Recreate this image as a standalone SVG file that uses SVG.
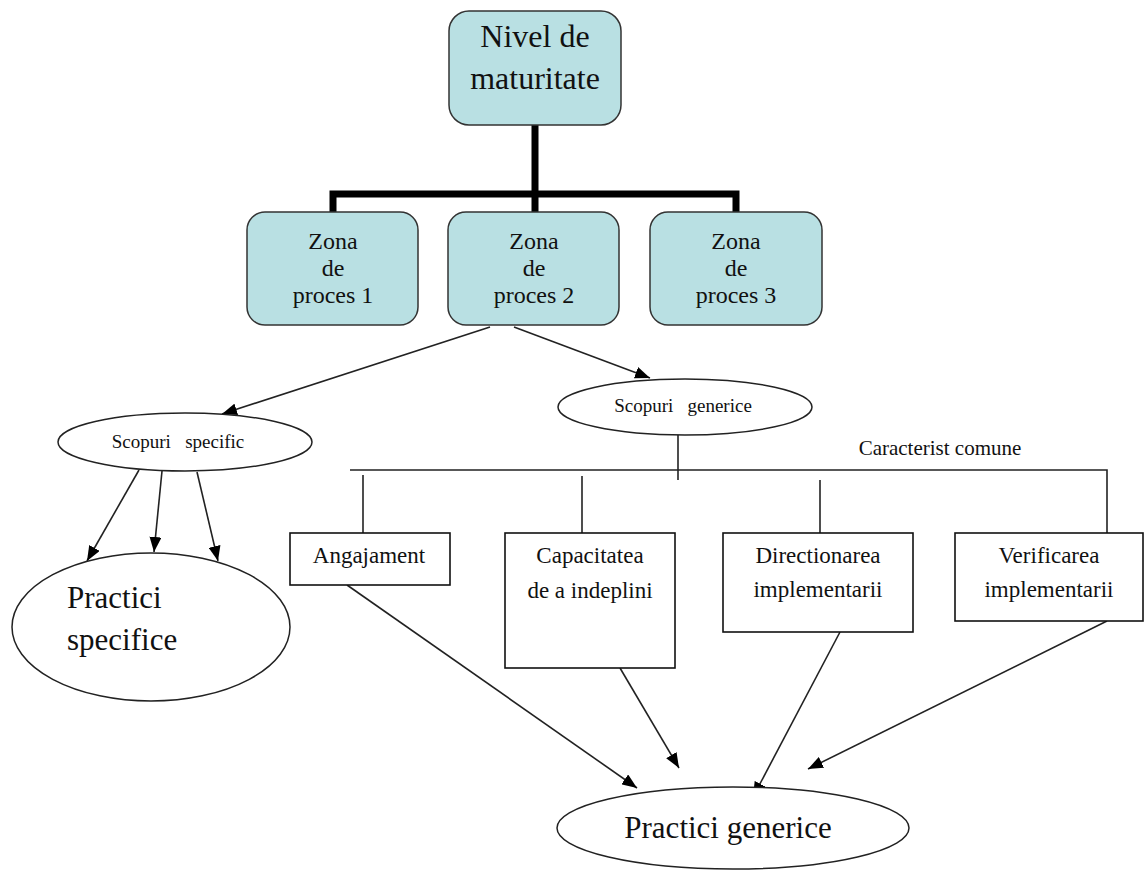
<svg xmlns="http://www.w3.org/2000/svg" width="1144" height="875" viewBox="0 0 1144 875">
<style>
.rb{fill:#b9e0e3;stroke:#333;stroke-width:1.5}
.bx{fill:#fff;stroke:#111;stroke-width:1.6}
.el{fill:#fff;stroke:#222;stroke-width:1.5}
.t{font-family:"Liberation Serif","Times New Roman",serif;fill:#111;text-anchor:middle}
.thick{stroke:#000;stroke-width:7;fill:none}
.ln{stroke:#222;stroke-width:1.6;fill:none}
.ar{stroke:#222;stroke-width:1.6;fill:none;marker-end:url(#ah)}
</style>
<defs>
<marker id="ah" markerUnits="userSpaceOnUse" markerWidth="16" markerHeight="12" refX="15" refY="6" orient="auto">
<path d="M0,0 L15,6 L0,12 Z" fill="#000"/>
</marker>
</defs>
<rect width="1144" height="875" fill="#fff"/>
<g id="connectors">
<path class="thick" d="M535,125 V194 M333,212 V194 H736 V212 M535,194 V212"/>
<line class="ar" x1="490" y1="327" x2="222" y2="414"/>
<line class="ar" x1="514" y1="327" x2="650" y2="378"/>
<line class="ar" x1="139" y1="470" x2="87" y2="561"/>
<line class="ar" x1="162" y1="471" x2="154" y2="552"/>
<line class="ar" x1="197" y1="472" x2="218" y2="561"/>
<line class="ln" x1="678" y1="435" x2="678" y2="480"/>
<path class="ln" d="M350,470 H1107 V533" stroke="#555"/>
<line class="ln" x1="363" y1="475" x2="363" y2="541"/>
<line class="ln" x1="582" y1="476" x2="582" y2="533"/>
<line class="ln" x1="820" y1="480" x2="820" y2="533"/>
<line class="ar" x1="347" y1="585" x2="637" y2="788"/>
<line class="ar" x1="620" y1="668" x2="679" y2="768"/>
<line class="ar" x1="840" y1="632" x2="753" y2="797"/>
<line class="ar" x1="1107" y1="621" x2="808" y2="769"/>
</g>
<g id="nivel">
<rect class="rb" x="449" y="11" width="172" height="114" rx="20"/>
<text class="t" x="535" y="47" font-size="32">Nivel de</text>
<text class="t" x="535" y="89" font-size="32">maturitate</text>
</g>
<g id="zona1">
<rect class="rb" x="247" y="212" width="171" height="113" rx="18"/>
<text class="t" x="333" y="249" font-size="24">Zona</text>
<text class="t" x="333" y="276" font-size="24">de</text>
<text class="t" x="333" y="303" font-size="24">proces 1</text>
</g>
<g id="zona2">
<rect class="rb" x="448" y="212" width="171" height="113" rx="18"/>
<text class="t" x="534" y="249" font-size="24">Zona</text>
<text class="t" x="534" y="276" font-size="24">de</text>
<text class="t" x="534" y="303" font-size="24">proces 2</text>
</g>
<g id="zona3">
<rect class="rb" x="650" y="212" width="172" height="113" rx="18"/>
<text class="t" x="736" y="249" font-size="24">Zona</text>
<text class="t" x="736" y="276" font-size="24">de</text>
<text class="t" x="736" y="303" font-size="24">proces 3</text>
</g>
<g id="scopuri-specific">
<ellipse class="el" cx="185" cy="442" rx="127" ry="29"/>
<text class="t" x="178" y="448" font-size="19" xml:space="preserve">Scopuri   specific</text>
</g>
<g id="scopuri-generice">
<ellipse class="el" cx="685" cy="407" rx="127" ry="28"/>
<text class="t" x="683" y="412" font-size="19" xml:space="preserve">Scopuri   generice</text>
</g>
<g id="caracterist">
<text class="t" x="940" y="455" font-size="21">Caracterist comune</text>
</g>
<g id="practici-specifice">
<ellipse class="el" cx="151" cy="627" rx="139" ry="74"/>
<text class="t" x="67" y="608" font-size="31" style="text-anchor:start">Practici</text>
<text class="t" x="67" y="650" font-size="31" style="text-anchor:start">specifice</text>
</g>
<g id="angajament">
<rect class="bx" x="290" y="533" width="160" height="52"/>
<text class="t" x="369" y="563" font-size="23">Angajament</text>
</g>
<g id="capacitatea">
<rect class="bx" x="505" y="533" width="170" height="135"/>
<text class="t" x="590" y="563" font-size="23">Capacitatea</text>
<text class="t" x="590" y="598" font-size="23">de a indeplini</text>
</g>
<g id="directionarea">
<rect class="bx" x="723" y="533" width="190" height="99"/>
<text class="t" x="818" y="563" font-size="23">Directionarea</text>
<text class="t" x="818" y="597" font-size="23">implementarii</text>
</g>
<g id="verificarea">
<rect class="bx" x="955" y="533" width="188" height="88"/>
<text class="t" x="1049" y="563" font-size="23">Verificarea</text>
<text class="t" x="1049" y="597" font-size="23">implementarii</text>
</g>
<g id="practici-generice">
<ellipse class="el" cx="733" cy="828" rx="176" ry="41"/>
<text class="t" x="728" y="838" font-size="31">Practici generice</text>
</g>
</svg>
